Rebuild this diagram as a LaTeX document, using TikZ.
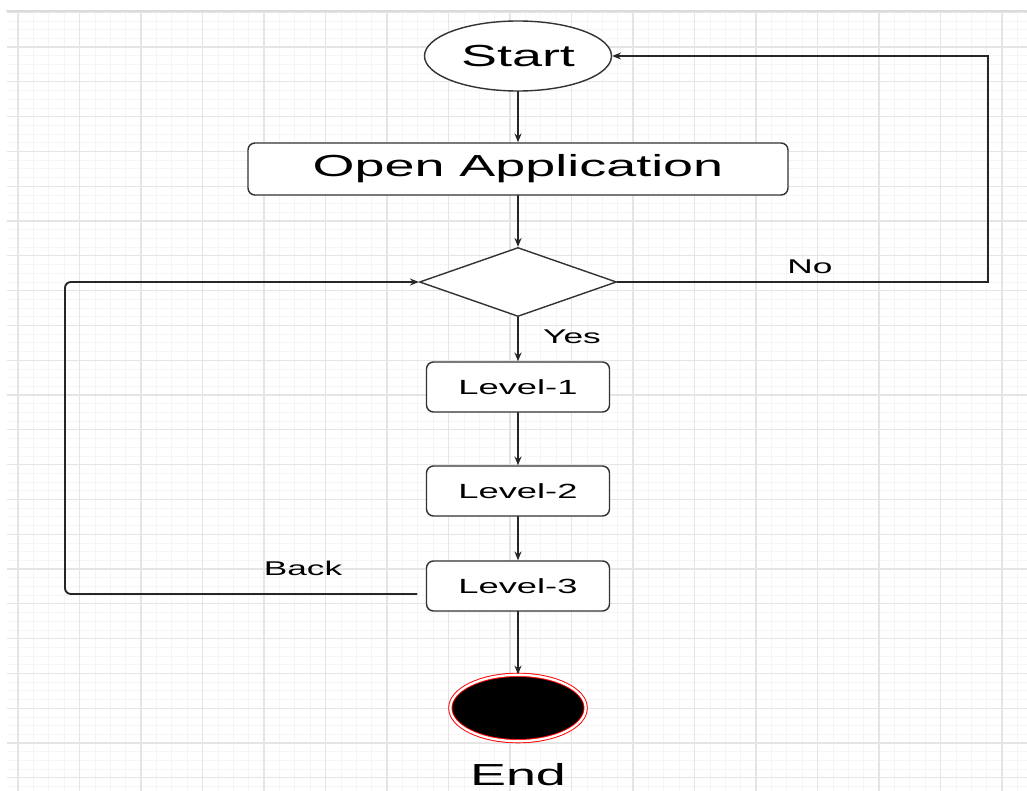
\documentclass[tikz,border=0pt]{standalone}
\usepackage{fontspec}
\setmainfont{Liberation Sans}[FakeStretch=1.77]
\usetikzlibrary{shapes.geometric,arrows.meta}

\begin{document}
\begin{tikzpicture}[x=0.03cm,y=-0.03cm,>={Stealth[length=7.5pt,width=6pt]},line cap=round,
  flow/.style={draw=black!80,line width=1.2pt,fill=white,inner sep=0pt},
  bigtext/.style={font=\fontsize{26}{30}\selectfont,text=black},
  levelbox/.style={flow,rounded corners=6pt,minimum width=5.49cm,minimum height=1.5cm,font=\fontsize{17.5}{20}\selectfont,text=black},
  link/.style={->,draw=black!85,line width=1.6pt},
  lbl/.style={font=\fontsize{17}{20}\selectfont,text=black}]
  \useasboundingbox (0,0) rectangle (1027,791);
  \begin{scope}
    \clip (7,12) rectangle (1027,791);
    \foreach \k in {0,...,65} \draw[black!4,line width=0.6pt] ({18+15.375*\k},12) -- ({18+15.375*\k},791);
    \foreach \k in {0,...,89} \draw[black!4,line width=0.6pt] (7,{12.2+8.7*\k}) -- (1027,{12.2+8.7*\k});
    \foreach \k in {0,...,16} \draw[black!10,line width=0.9pt] ({18+61.5*\k},12) -- ({18+61.5*\k},791);
    \foreach \k in {0,...,22} \draw[black!10,line width=0.9pt] (7,{12.2+34.8*\k}) -- (1027,{12.2+34.8*\k});
  \end{scope}
  \draw[black!14,line width=1.5pt] (7,11) -- (1027,11);

  \node[flow,ellipse,minimum width=5.61cm,minimum height=2.1cm,bigtext] (start) at (518,56) {Start};
  \node[flow,rounded corners=6pt,minimum width=16.2cm,minimum height=1.56cm,bigtext] (openapp) at (518,169) {Open Application};
  \node[flow,diamond,minimum width=5.91cm,minimum height=2.07cm] (choice) at (518,282) {};
  \node[levelbox] (level1) at (518,387) {Level-1};
  \node[levelbox] (level2) at (518,491) {Level-2};
  \node[levelbox] (level3) at (518,586) {Level-3};
  \node[ellipse,fill=black,draw=red,double=white,double distance=2pt,line width=0.8pt,minimum width=4.06cm,minimum height=1.99cm] (finish) at (518,708) {};
  \node[bigtext] (endlbl) at (518,775) {End};

  \draw[link] (start) -- (openapp);
  \draw[link] (openapp) -- (choice);
  \draw[link] (choice) -- (level1);
  \draw[link] (level1) -- (level2);
  \draw[link] (level2) -- (level3);
  \draw[link] (level3) -- (finish);
  \coordinate (nocorner) at (988,56);
  \draw[link] (choice.east) -| (nocorner) -- (start.east);
  \coordinate (backcorner) at (65,594);
  \draw[link,rounded corners=5pt] ([shift={(-9,8)}]level3.west) -- (backcorner) |- (choice.west);

  \node[lbl] (yeslbl) at (572,337) {Yes};
  \node[lbl] (nolbl) at (810,267) {No};
  \node[lbl] (backlbl) at (303,568) {Back};
\end{tikzpicture}
\end{document}
